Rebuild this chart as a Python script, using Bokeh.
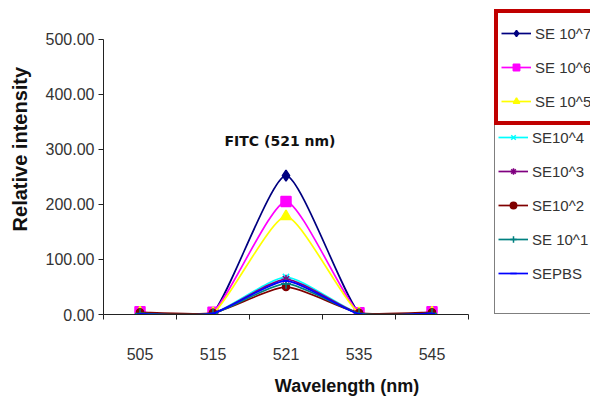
from bokeh.plotting import figure
from bokeh.models import (Range1d, FixedTicker, NumeralTickFormatter, Legend,
                          LegendItem, ColumnDataSource)
from bokeh.core.properties import value
from bokeh.embed import file_html
from bokeh.resources import INLINE

# ---- data ----
wavelengths = ["505", "515", "521", "535", "545"]
series_names = ["SE 10^7", "SE 10^6", "SE 10^5", "SE10^4", "SE10^3",
                "SE10^2", "SE 10^1", "SEPBS"]
se_1e7 = [3, 3, 252, 3, 3]
se_1e6 = [5, 4, 205, 3, 5]
se_1e5 = [3, 2, 178, 2, 3]
se_1e4 = [2, 2, 68, 2, 2]
se_1e3 = [2, 2, 64, 2, 2]
se_1e2 = [4, 3, 50, 3, 4]
se_1e1 = [2, 2, 56, 2, 2]
se_pbs = [1, 2, 61, 1, 2]
y_ticks = [0, 100, 200, 300, 400, 500]

series_values = [se_1e7, se_1e6, se_1e5, se_1e4, se_1e3, se_1e2, se_1e1, se_pbs]
colors = ["#000080", "#FF00FF", "#FFFF00", "#00FFFF", "#800080", "#800000",
          "#008080", "#0000FF"]
markers = ["diamond", "square", "triangle", "x", "asterisk", "circle", "cross", "dash"]
msizes = [11, 10, 11, 9, 9, 7, 10, 6]

n_cat = len(wavelengths)
xs = [i + 0.5 for i in range(n_cat)]
y_max = y_ticks[-1]

FIG_W, FIG_H = 590, 398
LEFT, BOTTOM = 103, 80
PLOT_RIGHT = 468          # px where the category axis ends
PLOT_TOP = 39             # px where the value axis ends (500)
x_end = n_cat * (FIG_W - LEFT) / (PLOT_RIGHT - LEFT)
y_end = y_max * (FIG_H - BOTTOM) / (FIG_H - BOTTOM - PLOT_TOP)

p = figure(width=FIG_W, height=FIG_H, x_range=Range1d(0, x_end),
           y_range=Range1d(0, y_end), output_backend="svg", toolbar_location=None,
           min_border_left=LEFT, min_border_right=0, min_border_top=0,
           min_border_bottom=BOTTOM)
p.outline_line_color = None
p.xgrid.visible = False
p.ygrid.visible = False
p.background_fill_color = "white"
p.border_fill_color = "white"

FONT = "Liberation Sans"


def smooth_segments(x, y, s=0.1):
    n = len(x)
    d = dict(x0=[], y0=[], x1=[], y1=[], cx0=[], cy0=[], cx1=[], cy1=[])
    for i in range(n - 1):
        a = i - 1 if i > 0 else i
        b = i + 2 if i + 2 < n else i + 1
        d["x0"].append(x[i]); d["y0"].append(y[i])
        d["x1"].append(x[i + 1]); d["y1"].append(y[i + 1])
        d["cx0"].append(x[i] + (x[i + 1] - x[a]) * s)
        d["cy0"].append(y[i] + (y[i + 1] - y[a]) * s)
        d["cx1"].append(x[i + 1] - (x[b] - x[i]) * s)
        d["cy1"].append(y[i + 1] - (y[b] - y[i]) * s)
    return d


items = []
for name, vals, c, m, ms in zip(series_names, series_values, colors, markers, msizes):
    seg = ColumnDataSource(smooth_segments(xs, vals))
    r_line = p.bezier(x0="x0", y0="y0", x1="x1", y1="y1", cx0="cx0", cy0="cy0",
                      cx1="cx1", cy1="cy1", source=seg, line_color=c, line_width=1.7)
    r_pts = p.scatter(xs, vals, marker=m, size=ms, fill_color=c, line_color=c,
                      line_width=1.5)
    items.append(LegendItem(label=name, renderers=[r_line, r_pts]))

# ---- axes ----
yax = p.yaxis[0]
yax.ticker = FixedTicker(ticks=y_ticks)
yax.formatter = NumeralTickFormatter(format="0.00")
yax.bounds = (0, y_max)
yax.minor_tick_line_color = None
yax.major_tick_out = 5
yax.major_tick_in = 0
yax.major_label_standoff = 4
yax.major_label_text_font = FONT
yax.major_label_text_font_size = "16px"
yax.major_label_text_color = "#333333"
yax.axis_line_color = "#222222"
yax.major_tick_line_color = "#222222"
yax.axis_label = "\u00a0" * 3 + "Relative intensity"
yax.axis_label_text_font = FONT
yax.axis_label_text_font_style = "bold"
yax.axis_label_text_font_size = "20px"
yax.axis_label_text_color = "#111111"
yax.axis_label_standoff = 12

xax = p.xaxis[0]
xax.ticker = FixedTicker(ticks=xs, minor_ticks=list(range(n_cat + 1)))
xax.major_label_overrides = {x: w for x, w in zip(xs, wavelengths)}
xax.bounds = (0, n_cat)
xax.major_tick_line_color = None
xax.major_tick_out = 0
xax.major_tick_in = 0
xax.minor_tick_out = 5
xax.minor_tick_in = 0
xax.minor_tick_line_color = "#222222"
xax.axis_line_color = "#222222"
xax.major_label_standoff = 28
xax.major_label_text_font = FONT
xax.major_label_text_font_size = "16px"
xax.major_label_text_color = "#333333"
xax.axis_label = "Wavelength (nm)"
xax.axis_label_text_font = FONT
xax.axis_label_text_font_style = "bold"
xax.axis_label_text_font_size = "18px"
xax.axis_label_text_color = "#111111"
xax.axis_label_standoff = 13

# ---- annotation title ----
p.text(x=[xs[2]], y=[315], text=["FITC (521 nm)"], text_font_size="14px",
       text_font_style="bold", text_align="center", text_baseline="middle",
       text_color="#111111", text_font=value("DejaVu Sans"), x_offset=-6)

# ---- legends ----
common = dict(label_text_font=FONT, label_text_font_size="15px",
              label_text_color="#333333", glyph_width=30, glyph_height=16,
              label_height=34, spacing=0, label_standoff=4, margin=0,
              background_fill_color="white", background_fill_alpha=1.0)

# legend positions in px from the frame's bottom-left
leg2 = Legend(items=items[3:], location=(391, 0), padding=3,
              border_line_color="#7f7f7f", border_line_width=1.5,
              border_line_alpha=1.0,
              title="\u00a0", title_location="below", title_text_font_size="14px",
              title_standoff=4, **common)
leg1 = Legend(items=items[:3], location=(391, 189), padding=3,
              border_line_color="#C00000", border_line_width=4.5,
              border_line_alpha=1.0, **common)
p.add_layout(leg2)
p.add_layout(leg1)

open("out.html", "w").write(file_html(p, INLINE))
